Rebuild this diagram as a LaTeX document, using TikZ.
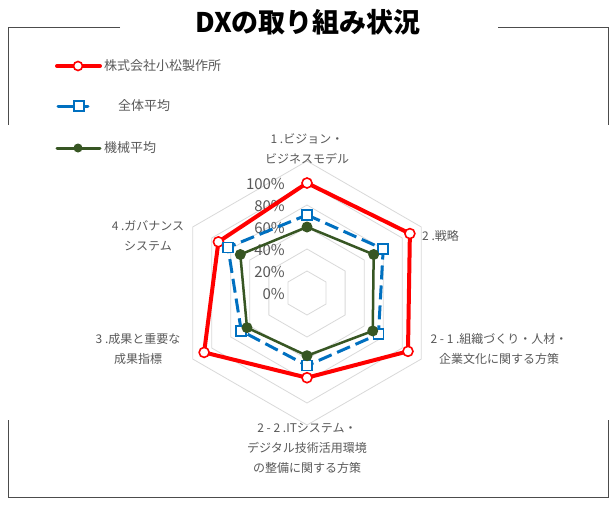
\documentclass[tikz,border=0pt]{standalone}
\usepackage{fontspec}
\usetikzlibrary{calc}
\setmainfont{Noto Sans CJK JP}
\definecolor{lbl}{RGB}{89,89,89}
\definecolor{gridc}{RGB}{217,217,217}
\definecolor{cred}{RGB}{255,0,0}
\definecolor{cblue}{RGB}{0,112,192}
\definecolor{cgreen}{RGB}{55,86,35}
\tikzset{lab/.style={text=lbl,font=\fontsize{12}{14}\selectfont,inner sep=0pt},
frame/.style={draw=black!70,line width=1pt}}
\begin{document}
\begin{tikzpicture}[x=1pt,y=-1pt]
\useasboundingbox (0,0) rectangle (616,504);
\fill[white] (0,0) rectangle (616,504);
% frame
\draw[frame] (120,27) -- (8,27) -- (8,125);
\draw[frame] (498,27) -- (608,27) -- (608,125);
\draw[frame] (8,420) -- (8,497) -- (608,497) -- (608,420);
\node[font=\bfseries\fontsize{27}{30}\selectfont,inner sep=0pt] (title) at (308,22) {DXの取り組み状況};
% grid
\coordinate (C) at (307,293);
\foreach \k in {1,...,6}{
 \draw[gridc,line width=0.8pt] ($(C)+(-90:22*\k)$) \foreach \i in {1,...,5}{ -- ($(C)+(-90+60*\i:22*\k)$)} -- cycle;
}
\foreach \p [count=\k from 0] in {0\%,20\%,40\%,60\%,80\%,100\%}
 \node[lab,anchor=east,font=\fontsize{15}{16}\selectfont] (p\k) at (285,294-22*\k) {\p};
% series
\def\series#1#2{\foreach \v [count=\i from 0] in {#2}{\coordinate (#1\i) at ($(C)+(-90+60*\i:1.1*\v)$);}}
\series{r}{100,108,106,77,108,93}
\series{b}{71,80,75,66,69,83}
\series{g}{60,70,69,57,63,70}
\draw[cred,line width=4pt,line join=round] (r0)--(r1)--(r2)--(r3)--(r4)--(r5)--cycle;
\draw[cblue,line width=3pt,dash pattern=on 14pt off 6pt] (b0)--(b1)--(b2)--(b3)--(b4)--(b5)--cycle;
\draw[cgreen,line width=2.5pt,line join=round] (g0)--(g1)--(g2)--(g3)--(g4)--(g5)--cycle;
\foreach \i in {0,...,5}{
 \draw[cred,fill=white,line width=1.6pt] (r\i) circle (5);
 \draw[cblue,fill=white,line width=1.6pt] ($(b\i)+(-5,-5)$) rectangle ($(b\i)+(5,5)$);
 \fill[cgreen] (g\i) circle (5.5);
}
% legend
\draw[cred,line width=4pt,line cap=round] (57,66) -- (100,66);
\draw[cred,fill=white,line width=1.6pt] (78,66) circle (4.5);
\node[lab,anchor=west,font=\fontsize{13}{14}\selectfont] (l1) at (104,66) {株式会社小松製作所};
\draw[cblue,line width=3pt,line cap=round] (58,106) -- (88,106);
\draw[cblue,fill=white,line width=1.6pt] (74,101) rectangle (84,111);
\node[lab,anchor=west,font=\fontsize{13}{14}\selectfont] (l2) at (105,106) {\hspace{1em}全体平均};
\draw[cgreen,line width=3pt,line cap=round] (57,148) -- (100,148);
\fill[cgreen] (78,148) circle (4.5);
\node[lab,anchor=west,font=\fontsize{13}{14}\selectfont] (l3) at (104,148) {機械平均};
% axis labels
\node[lab,align=center] (a0) at (307,149) {1 .ビジョン・\\[6pt]ビジネスモデル};
\node[lab,anchor=west] (a1) at (422,236) {2 .戦略};
\node[lab,align=center] (a2) at (499,349) {2 - 1 .組織づくり・人材・\\[6pt]企業文化に関する方策};
\node[lab,align=center] (a3) at (307,448) {2 - 2 .ITシステム・\\[6pt]デジタル技術活用環境\\[6pt]の整備に関する方策};
\node[lab,align=center] (a4) at (138,349) {3 .成果と重要な\\[6pt]成果指標};
\node[lab,align=center] (a5) at (148,236) {4 .ガバナンス\\[6pt]システム};
\end{tikzpicture}
\end{document}
